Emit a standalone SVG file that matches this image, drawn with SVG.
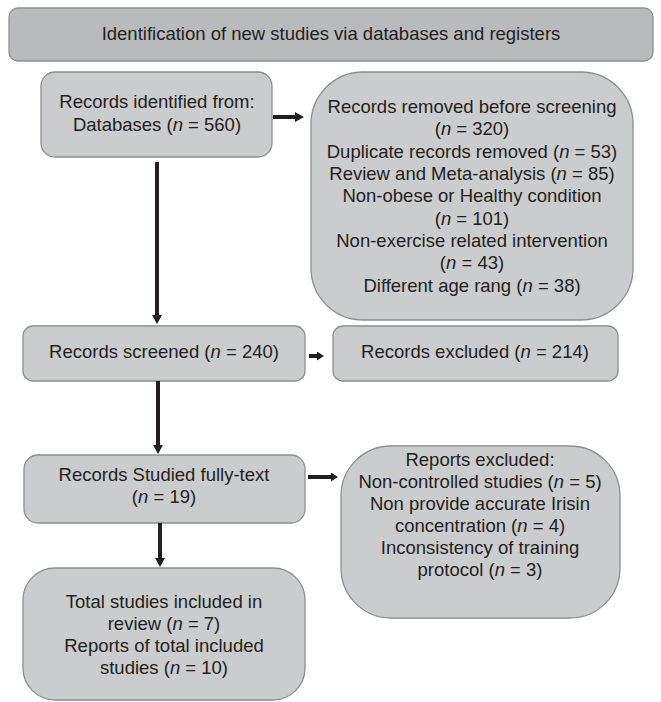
<svg xmlns="http://www.w3.org/2000/svg" width="661" height="702" viewBox="0 0 661 702">
<defs>
<style>
.box{fill:#cbcccd;stroke:#8e8f91;stroke-width:1.3}
.banner{fill:#b9babc;stroke:#8e8f91;stroke-width:1.3}
text{font-family:"Liberation Sans",Arial,sans-serif;font-size:18.5px;fill:#231f20;text-anchor:middle}
.c{stroke:#231f20;stroke-width:4;fill:none}
.i{font-style:italic}
</style>
<marker id="ah" markerUnits="userSpaceOnUse" markerWidth="10" markerHeight="10" viewBox="0 0 10 10" refX="0" refY="5" orient="auto">
<path d="M0,0 L9,5 L0,10 Z" fill="#231f20"/>
</marker>
<marker id="as" markerUnits="userSpaceOnUse" markerWidth="8" markerHeight="9" viewBox="0 0 8 9" refX="0" refY="4.5" orient="auto">
<path d="M0,0 L7,4.5 L0,9 Z" fill="#231f20"/>
</marker>
</defs>
<rect width="661" height="702" fill="#ffffff"/>
<g id="banner">
<rect class="banner" x="9" y="8" width="644" height="53" rx="9"/>
<text x="331" y="40">Identification of new studies via databases and registers</text>
</g>
<g id="identified">
<rect class="box" x="41" y="72" width="231" height="85" rx="14"/>
<text x="157" y="108">Records identified from:</text>
<text x="157" y="131">Databases (<tspan class="i">n</tspan> = 560)</text>
</g>
<g id="removed">
<rect class="box" x="311" y="72" width="322" height="248" rx="52"/>
<text x="472" y="113">Records removed before screening</text>
<text x="472" y="135">(<tspan class="i">n</tspan> = 320)</text>
<text x="472" y="158">Duplicate records removed (<tspan class="i">n</tspan> = 53)</text>
<text x="472" y="180">Review and Meta-analysis (<tspan class="i">n</tspan> = 85)</text>
<text x="472" y="202">Non-obese or Healthy condition</text>
<text x="472" y="225">(<tspan class="i">n</tspan> = 101)</text>
<text x="472" y="247">Non-exercise related intervention</text>
<text x="472" y="269">(<tspan class="i">n</tspan> = 43)</text>
<text x="472" y="292">Different age rang (<tspan class="i">n</tspan> = 38)</text>
</g>
<g id="screened">
<rect class="box" x="23" y="326" width="282" height="55" rx="10"/>
<text x="164" y="358">Records screened (<tspan class="i">n</tspan> = 240)</text>
</g>
<g id="excluded">
<rect class="box" x="333" y="326" width="285" height="55" rx="10"/>
<text x="475" y="358">Records excluded (<tspan class="i">n</tspan> = 214)</text>
</g>
<g id="studied">
<rect class="box" x="24" y="455" width="281" height="68" rx="14"/>
<text x="164" y="481">Records Studied fully-text</text>
<text x="164" y="503">(<tspan class="i">n</tspan> = 19)</text>
</g>
<g id="reports">
<rect class="box" x="341" y="446" width="279" height="172" rx="50"/>
<text x="480" y="466">Reports excluded:</text>
<text x="480" y="488">Non-controlled studies (<tspan class="i">n</tspan> = 5)</text>
<text x="480" y="510">Non provide accurate Irisin</text>
<text x="480" y="532">concentration (<tspan class="i">n</tspan> = 4)</text>
<text x="480" y="554">Inconsistency of training</text>
<text x="480" y="576">protocol (<tspan class="i">n</tspan> = 3)</text>
</g>
<g id="total">
<rect class="box" x="23" y="568" width="282" height="132" rx="32"/>
<text x="164" y="608">Total studies included in</text>
<text x="164" y="630">review (<tspan class="i">n</tspan> = 7)</text>
<text x="164" y="652">Reports of total included</text>
<text x="164" y="674">studies (<tspan class="i">n</tspan> = 10)</text>
</g>
<g id="connectors">
<path class="c" d="M273,117 H295" marker-end="url(#ah)"/>
<path class="c" d="M157,162 V315" marker-end="url(#ah)"/>
<path class="c" d="M309,356 H317" marker-end="url(#as)"/>
<path class="c" d="M158,381 V445" marker-end="url(#ah)"/>
<path class="c" d="M308,477 H331" marker-end="url(#as)"/>
<path class="c" d="M160,523 V558" marker-end="url(#ah)"/>
</g>
</svg>
